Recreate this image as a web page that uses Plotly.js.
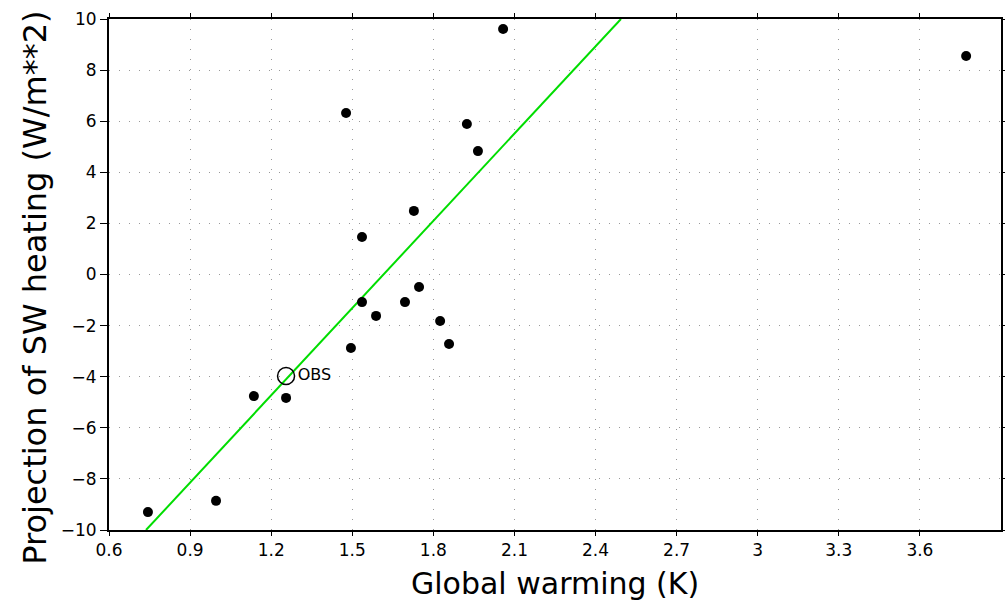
<!DOCTYPE html>
<html>
<head>
<meta charset="utf-8">
<script src="https://cdn.plot.ly/plotly-3.0.1.min.js"></script>
<style>html,body{margin:0;padding:0;background:#fff;}#chart{width:1005px;height:606px;}</style>
</head>
<body>
<div id="chart"></div>
<script>
// Models: global warming (K) vs projection of SW heating (W/m**2)
var globalWarming = [2.058, 3.771, 1.477, 1.924, 1.965, 1.728, 1.536, 1.747, 1.536, 1.695, 1.588, 1.825, 1.495, 1.858, 1.136, 1.255, 0.996, 0.744];
var swHeating     = [9.61, 8.55, 6.32, 5.89, 4.83, 2.49, 1.47, -0.49, -1.08, -1.08, -1.62, -1.82, -2.88, -2.72, -4.76, -4.83, -8.86, -9.30];
// Observation
var obsX = [1.255];
var obsY = [-3.97];
var obsLabel = ["OBS"];
// Fitted line end points
var fitX = [0.737, 2.494];
var fitY = [-10, 10];

var xTicks = [0.6, 0.9, 1.2, 1.5, 1.8, 2.1, 2.4, 2.7, 3, 3.3, 3.6];
var xTickLabels = ["0.6", "0.9", "1.2", "1.5", "1.8", "2.1", "2.4", "2.7", "3", "3.3", "3.6"];
var yTicks = [-10, -8, -6, -4, -2, 0, 2, 4, 6, 8, 10];

var font = "DejaVu Sans, sans-serif";

var traces = [
  {x: fitX, y: fitY, mode: "lines", type: "scatter",
   line: {color: "#00dd00", width: 2}, hoverinfo: "skip", showlegend: false},
  {x: globalWarming, y: swHeating, mode: "markers", type: "scatter",
   marker: {color: "#000", size: 10}, showlegend: false, cliponaxis: false},
  {x: obsX, y: obsY, mode: "markers+text", type: "scatter", text: obsLabel,
   textposition: "middle right", textfont: {family: font, size: 16, color: "#000"},
   marker: {color: "rgba(0,0,0,0)", size: 17, line: {color: "#000", width: 1.5}},
   showlegend: false}
];

var layout = {
  width: 1005, height: 606,
  margin: {l: 109, r: 4, t: 19, b: 76},
  paper_bgcolor: "#fff", plot_bgcolor: "#fff",
  font: {family: font, color: "#000"},
  xaxis: {
    range: [0.6, 3.9], tickmode: "array", tickvals: xTicks, ticktext: xTickLabels,
    showgrid: true, gridcolor: "#999", griddash: "1px,9px", gridwidth: 1,
    zeroline: false, showline: true, linecolor: "#000", linewidth: 2, mirror: "ticks",
    ticks: "outside", ticklen: 4, tickcolor: "#000", tickwidth: 1,
    tickfont: {family: font, size: 17, color: "#000"}
  },
  yaxis: {
    range: [-10, 10], tickmode: "array", tickvals: yTicks,
    showgrid: true, gridcolor: "#999", griddash: "1px,9px", gridwidth: 1,
    zeroline: false, showline: true, linecolor: "#000", linewidth: 2, mirror: "ticks",
    ticks: "outside", ticklen: 7, tickcolor: "#000", tickwidth: 1,
    tickfont: {family: font, size: 17, color: "#000"}
  },
  annotations: [
    {text: "Global warming (K)", xref: "paper", yref: "paper", x: 0.5, y: -0.104,
     xanchor: "center", yanchor: "middle", showarrow: false,
     font: {family: font, size: 30, color: "#000"}},
    {text: "Projection of SW heating (W/m**2)", xref: "paper", yref: "paper",
     x: -0.083, y: 0.474, xanchor: "center", yanchor: "middle", textangle: -90,
     showarrow: false, font: {family: font, size: 32, color: "#000"}}
  ],
  showlegend: false
};

Plotly.newPlot("chart", traces, layout, {displayModeBar: false, staticPlot: true});
</script>
</body>
</html>
